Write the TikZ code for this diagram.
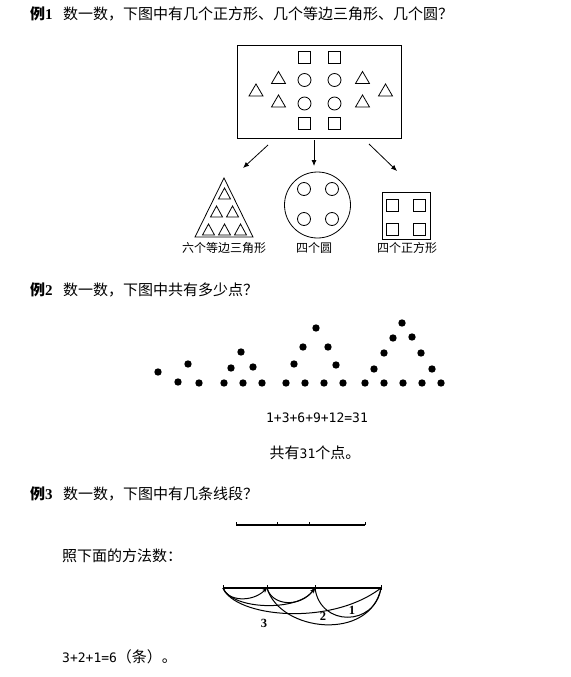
\documentclass[tikz,border=0pt]{standalone}
\usepackage{fontspec}
\newfontfamily\cjk{Noto Sans CJK SC}
\newfontfamily\monof{DejaVu Sans Mono}
\newfontfamily\serifb{Liberation Serif}
\usetikzlibrary{arrows.meta,calc}
\tikzset{
  thin line/.style={line width=0.8pt},
  sqn/.style={draw, thin line, minimum size=12pt, inner sep=0pt},
  cin/.style={draw, thin line, circle, minimum size=13pt, inner sep=0pt},
  tri/.pic={\draw[thin line] (-7,6) -- (7,6) -- (0,-6) -- cycle;},
  stri/.pic={\draw[thin line] (-6,5.5) -- (6,5.5) -- (0,-5.5) -- cycle;},
  arr/.style={thin line, -{Latex[length=6pt,width=5pt]}},
  dotn/.style={circle, fill=black, minimum size=7.4pt, inner sep=0pt},
  bodytxt/.style={inner sep=0pt, font=\cjk\fontsize{15}{18}\selectfont},
  lbl/.style={inner sep=0pt, font=\cjk\fontsize{12}{14}\selectfont},
  ex/.style={inner sep=0pt, font=\cjk\bfseries\fontsize{15}{18}\selectfont},
  seg/.style={line width=1.3pt},
  curv/.style={line width=1pt},
  curva/.style={line width=1pt, -{Stealth[length=5pt,width=4pt]}},
  numl/.style={inner sep=0pt, font=\serifb\bfseries\fontsize{12.5}{14}\selectfont}
}
\begin{document}
\begin{tikzpicture}[x=1pt,y=-1pt]
\useasboundingbox[fill=white] (0,0) rectangle (570,677);

% ---------- Example 1 ----------
\node[ex, anchor=west] (ex1) at (30,14) {例{\serifb\bfseries 1}};
\node[bodytxt, anchor=west] (q1) at (63,14) {数一数，下图中有几个正方形、几个等边三角形、几个圆？};

\node[draw, thin line, minimum width=164pt, minimum height=93pt, inner sep=0pt] (box) at (319,91.5) {};
% squares
\node[sqn] (s1) at (304.5,57.5) {};
\node[sqn] (s2) at (334.5,57.5) {};
\node[sqn] (s3) at (304.5,123.5) {};
\node[sqn] (s4) at (334.5,123.5) {};
% circles
\node[cin] (c1) at (304.5,80) {};
\node[cin] (c2) at (334.5,80) {};
\node[cin] (c3) at (304.5,103.5) {};
\node[cin] (c4) at (334.5,103.5) {};
% triangles
\pic at (256,90) {tri};
\pic at (278.5,77.5) {tri};
\pic at (278.5,101) {tri};
\pic at (362.5,77.5) {tri};
\pic at (362.5,101) {tri};
\pic at (385.5,90) {tri};

% arrows
\coordinate (la) at (268,145);
\coordinate (lb) at (243,168);
\coordinate (ma) at (314,140);
\coordinate (mb) at (314,166);
\coordinate (ra) at (369,144);
\coordinate (rb) at (397,171);
\draw[arr] (la) -- (lb);
\draw[arr] (ma) -- (mb);
\draw[arr] (ra) -- (rb);

% big triangle
\coordinate (tA) at (224,178);
\coordinate (tB) at (195,237);
\coordinate (tC) at (253,237);
\draw[thin line] (tA) -- (tB) -- (tC) -- cycle;
\pic at (224.5,193.5) {stri};
\pic at (216.5,211.5) {stri};
\pic at (232.5,211.5) {stri};
\pic at (208.5,229.5) {stri};
\pic at (224.5,229.5) {stri};
\pic at (240.5,229.5) {stri};
\node[lbl] (l1) at (224,248) {六个等边三角形};

% big circle
\node[draw, thin line, circle, minimum size=66pt, inner sep=0pt] (bc) at (317.5,205) {};
\node[cin] (bc1) at (304,189) {};
\node[cin] (bc2) at (332,189) {};
\node[cin] (bc3) at (304,219) {};
\node[cin] (bc4) at (332,219) {};
\node[lbl] (l2) at (314,248) {四个圆};

% square frame
\node[draw, thin line, minimum width=48pt, minimum height=47pt, inner sep=0pt] (sf) at (406,215.5) {};
\node[sqn] (sf1) at (392.5,205) {};
\node[sqn] (sf2) at (419.5,205) {};
\node[sqn] (sf3) at (392.5,229.5) {};
\node[sqn] (sf4) at (419.5,229.5) {};
\node[lbl] (l3) at (407,248) {四个正方形};

% ---------- Example 2 ----------
\node[ex, anchor=west] (ex2) at (30,290) {例{\serifb\bfseries 2}};
\node[bodytxt, anchor=west] (q2) at (63,290) {数一数，下图中共有多少点？};

\foreach \p [count=\i] in {(158,372),
  (178,382),(188,364),(199,383),
  (224,383),(243,383),(262,383),(231,368),(253,367),(241,352),
  (286,383),(305,383),(324,383),(343,383),(294,364),(336,365),(303,347),(328,347),(316,328),
  (365,383),(384,383),(403,383),(422,383),(441,383),(374,369),(432,369),(384,353),(421,353),(393,338),(412,337),(402,323)}
  \node[dotn] (d\i) at \p {};

\node[inner sep=0pt, font=\monof\fontsize{13}{15}\selectfont] (f1) at (317,418) {1+3+6+9+12=31};
\node[bodytxt] (f2) at (315,453) {共有{\monof\fontsize{13}{15}\selectfont 31}个点。};

% ---------- Example 3 ----------
\node[ex, anchor=west] (ex3) at (30,494) {例{\serifb\bfseries 3}};
\node[bodytxt, anchor=west] (q3) at (63,494) {数一数，下图中有几条线段？};

\coordinate (p1) at (236,525);
\coordinate (p2) at (277,525);
\coordinate (p3) at (309,525);
\coordinate (p4) at (365,525);
\draw[seg] (p1) -- (p4);
\foreach \c in {p1,p2,p3,p4} \draw[line width=1pt] (\c) -- ++(0,-3.5);

\node[bodytxt, anchor=west] (q4) at (62,556) {照下面的方法数：};

\coordinate (A) at (223,588);
\coordinate (B) at (267,588);
\coordinate (C) at (315,588);
\coordinate (D) at (381,588);
\draw[seg] (A) -- (D);
\foreach \c in {A,B,C,D} \draw[line width=1pt] ($(\c)+(0,1.5)$) -- ++(0,-5);
\draw[curva] (A) .. controls (227,601) and (252,603) .. (B);
\draw[curva] (A) .. controls (232,610) and (298,612) .. (C);
\draw[curv] (A) .. controls (235,617) and (330,627) .. (D);
\draw[curva] (B) .. controls (272,606) and (300,608) .. (C);
\draw[curv] (B) .. controls (280,632) and (370,642) .. (D);
\draw[curv] (C) .. controls (320,627) and (375,627) .. (D);
\node[numl] (n3) at (264,623) {3};
\node[numl] (n2) at (323,616) {2};
\node[numl] (n1) at (352,610) {1};

\node[anchor=west, inner sep=0pt, font=\monof\fontsize{13}{15}\selectfont] (ans) at (62,657) {3+2+1=6{\cjk\fontsize{15}{18}\selectfont （条）。}};
\end{tikzpicture}
\end{document}
